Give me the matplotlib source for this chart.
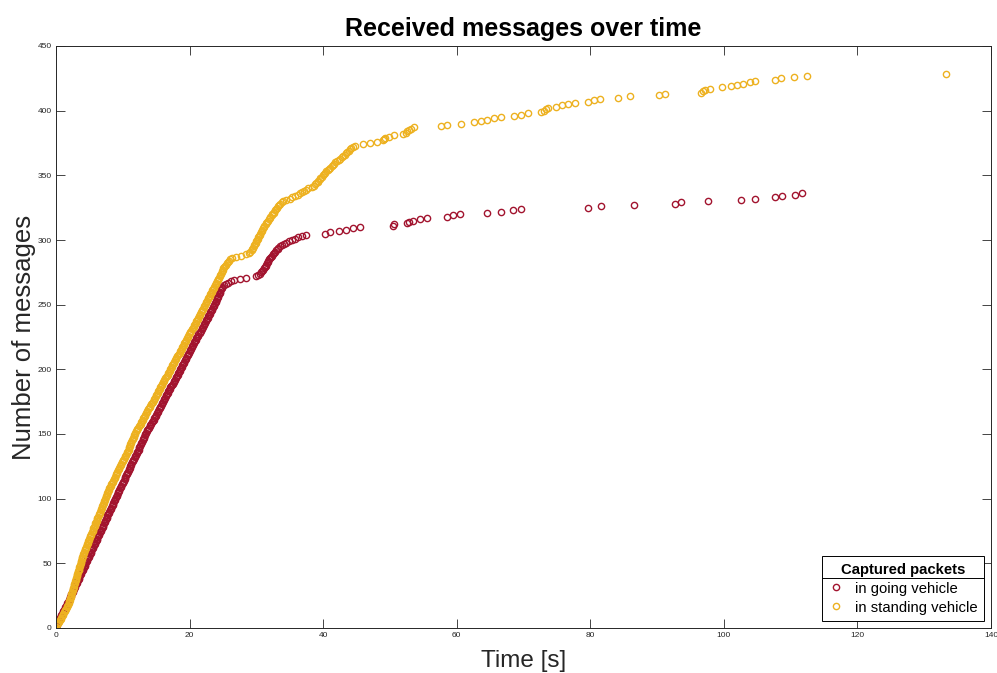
import numpy as np
import matplotlib
matplotlib.use("Agg")
import matplotlib.pyplot as plt
from matplotlib.lines import Line2D

plt.rcParams['font.family'] = ['Liberation Sans', 'DejaVu Sans']

# Arrival time [s] of every captured packet, in order (the y value is the running count)
going_times = [
    0.0, 0.1, 0.2, 0.2, 0.3, 0.4, 0.5, 0.6, 0.7, 0.8, 0.9,
    1.0, 1.1, 1.2, 1.3, 1.4, 1.5, 1.6, 1.7, 1.8, 1.9,
    2.0, 2.1, 2.1, 2.2, 2.3, 2.4, 2.5, 2.6, 2.7, 2.7, 2.8, 2.9,
    3.0, 3.1, 3.2, 3.3, 3.4, 3.5, 3.5, 3.6, 3.7, 3.8, 3.9,
    4.0, 4.1, 4.2, 4.3, 4.4, 4.4, 4.5, 4.6, 4.7, 4.8, 4.9,
    5.0, 5.1, 5.2, 5.3, 5.3, 5.4, 5.5, 5.6, 5.7, 5.8, 5.9,
    6.0, 6.1, 6.2, 6.2, 6.3, 6.4, 6.5, 6.6, 6.7, 6.8, 6.9,
    7.0, 7.1, 7.1, 7.2, 7.3, 7.4, 7.5, 7.6, 7.6, 7.7, 7.8, 7.9,
    8.0, 8.1, 8.2, 8.3, 8.4, 8.5, 8.5, 8.6, 8.7, 8.8, 8.9,
    9.0, 9.1, 9.2, 9.3, 9.3, 9.4, 9.5, 9.6, 9.7, 9.8, 9.9,
    10.0, 10.1, 10.2, 10.3, 10.4, 10.4, 10.5, 10.6, 10.7, 10.8, 10.9,
    11.0, 11.1, 11.1, 11.2, 11.3, 11.4, 11.5, 11.6, 11.7, 11.8, 11.9,
    12.0, 12.1, 12.2, 12.3, 12.4, 12.5, 12.5, 12.6, 12.7, 12.8, 12.9,
    13.0, 13.1, 13.2, 13.2, 13.3, 13.4, 13.5, 13.6, 13.7, 13.8, 13.9,
    14.0, 14.1, 14.2, 14.4, 14.5, 14.6, 14.7, 14.8, 14.9,
    15.0, 15.1, 15.2, 15.3, 15.4, 15.5, 15.6, 15.7, 15.8, 15.9,
    16.0, 16.1, 16.2, 16.3, 16.4, 16.5, 16.6, 16.7, 16.8, 16.9,
    17.0, 17.1, 17.2, 17.4, 17.5, 17.6, 17.7, 17.8, 17.9,
    18.0, 18.1, 18.2, 18.3, 18.4, 18.5, 18.6, 18.7, 18.8, 18.9,
    19.0, 19.1, 19.2, 19.3, 19.4, 19.5, 19.6, 19.7, 19.8, 19.9,
    20.0, 20.1, 20.2, 20.3, 20.4, 20.5, 20.6, 20.7, 20.8, 20.9,
    21.0, 21.1, 21.2, 21.3, 21.5, 21.6, 21.7, 21.8, 21.9,
    22.0, 22.1, 22.2, 22.3, 22.4, 22.5, 22.6, 22.7, 22.8, 22.9,
    23.0, 23.1, 23.2, 23.3, 23.4, 23.5, 23.6, 23.7, 23.8, 23.9,
    24.0, 24.1, 24.1, 24.2, 24.3, 24.4, 24.5, 24.6, 24.6, 24.7, 24.8, 24.9,
    25.2, 25.5, 25.8, 26.2, 26.6, 27.5, 28.4,
    29.9, 30.2, 30.5, 30.7, 30.9, 31.0, 31.2, 31.3, 31.4, 31.5, 31.6, 31.7,
    31.8, 31.9, 32.0, 32.2, 32.3, 32.5, 32.6, 32.8, 33.0, 33.2, 33.3, 33.5,
    33.9, 34.2, 34.5, 34.9, 35.3, 35.8, 36.3, 36.8, 37.4,
    40.3, 41.1, 42.4, 43.4, 44.4, 45.5, 50.5, 50.6,
    52.5, 52.9, 53.4, 54.5, 55.5, 58.5, 59.5, 60.5,
    64.5, 66.6, 68.5, 69.6, 79.6, 81.6, 86.6, 92.7, 93.6, 97.6,
    102.6, 104.7, 107.7, 108.7, 110.7, 111.7,
]

standing_times = [
    0.0, 0.1, 0.2, 0.3, 0.4, 0.6, 0.7, 0.8, 0.9,
    1.0, 1.1, 1.2, 1.3, 1.4, 1.5, 1.6, 1.7, 1.8, 1.9, 1.9,
    2.0, 2.05, 2.1, 2.2, 2.25, 2.3, 2.35, 2.4, 2.5, 2.55, 2.6, 2.65, 2.7, 2.75, 2.8, 2.9, 2.95,
    3.0, 3.05, 3.1, 3.15, 3.2, 3.3, 3.35, 3.4, 3.45, 3.5, 3.55, 3.6, 3.7, 3.75, 3.8, 3.85, 3.9, 3.95,
    4.0, 4.1, 4.15, 4.2, 4.3, 4.4, 4.5, 4.55, 4.6, 4.7, 4.8, 4.85, 4.9,
    5.0, 5.1, 5.15, 5.2, 5.3, 5.4, 5.5, 5.55, 5.6, 5.7, 5.8, 5.85, 5.9,
    6.0, 6.1, 6.15, 6.2, 6.3, 6.4, 6.5, 6.55, 6.6, 6.7, 6.8, 6.85, 6.9,
    7.0, 7.1, 7.15, 7.2, 7.3, 7.4, 7.5, 7.55, 7.6, 7.7, 7.8, 7.85, 7.9,
    8.0, 8.1, 8.2, 8.3, 8.4, 8.5, 8.6, 8.7, 8.8, 8.9, 8.95,
    9.0, 9.1, 9.2, 9.3, 9.4, 9.5, 9.6, 9.7, 9.8, 9.9,
    10.0, 10.1, 10.2, 10.3, 10.4, 10.5, 10.6, 10.7, 10.8, 10.9, 10.95,
    11.0, 11.1, 11.15, 11.2, 11.3, 11.4, 11.5, 11.6, 11.65, 11.7, 11.8, 11.9,
    12.0, 12.1, 12.2, 12.35, 12.5, 12.6, 12.7, 12.8, 12.9,
    13.0, 13.1, 13.2, 13.3, 13.4, 13.5, 13.6, 13.7, 13.8, 13.9,
    14.0, 14.1, 14.2, 14.35, 14.5, 14.6, 14.7, 14.8, 14.9,
    15.0, 15.1, 15.2, 15.3, 15.4, 15.5, 15.6, 15.7, 15.8, 15.9,
    16.0, 16.1, 16.2, 16.35, 16.5, 16.6, 16.7, 16.8, 16.9,
    17.0, 17.1, 17.2, 17.3, 17.4, 17.5, 17.6, 17.7, 17.8, 17.9,
    18.0, 18.1, 18.2, 18.35, 18.5, 18.6, 18.7, 18.8, 18.9,
    19.0, 19.1, 19.2, 19.3, 19.4, 19.5, 19.6, 19.7, 19.8, 19.9,
    20.0, 20.1, 20.2, 20.35, 20.5, 20.6, 20.7, 20.8, 20.9,
    21.0, 21.1, 21.2, 21.3, 21.4, 21.5, 21.6, 21.7, 21.8, 21.9,
    22.0, 22.1, 22.2, 22.3, 22.4, 22.5, 22.6, 22.7, 22.8, 22.9,
    23.0, 23.1, 23.2, 23.3, 23.4, 23.5, 23.6, 23.7, 23.8, 23.9,
    24.0, 24.1, 24.2, 24.3, 24.4, 24.5, 24.6, 24.7, 24.8, 24.9, 24.95,
    25.0, 25.15, 25.3, 25.45, 25.6, 25.75, 25.9,
    26.1, 26.4, 27.0, 27.7, 28.4, 28.9,
    29.1, 29.3, 29.4, 29.5, 29.6, 29.7, 29.8, 29.9, 30.0, 30.1,
    30.2, 30.3, 30.4, 30.5, 30.6, 30.7, 30.8, 30.9, 31.0, 31.1,
    31.2, 31.4, 31.5, 31.6, 31.8, 31.9, 32.0, 32.1, 32.3, 32.4,
    32.6, 32.7, 32.8, 33.0, 33.1, 33.3, 33.4, 33.6, 33.8, 34.0,
    34.5, 35.0, 35.4, 35.8, 36.2, 36.5, 36.9, 37.2, 37.5, 37.8,
    38.3, 38.6, 38.8, 39.0, 39.2, 39.3, 39.5, 39.6, 39.8, 40.0,
    40.1, 40.3, 40.5, 40.7, 40.9, 41.1, 41.3, 41.5, 41.7, 41.8,
    42.0, 42.3, 42.5, 42.8, 43.0, 43.2, 43.4, 43.6, 43.8, 44.0,
    44.2, 44.5, 44.8,
    46.0, 47.0, 48.0, 48.9, 49.1, 49.2, 49.9, 50.6,
    52.0, 52.4, 52.6, 52.8, 53.1, 53.6, 57.6, 58.5, 60.6, 62.6,
    63.6, 64.6, 65.6, 66.6, 68.6, 69.7, 70.7, 72.6, 73.0, 73.3, 73.6,
    74.8, 75.7, 76.7, 77.7, 79.6, 80.5, 81.4, 84.2, 86.0, 90.3, 91.2,
    96.6, 96.9, 97.2, 97.9, 99.7, 101.0, 102.0, 102.9, 103.9, 104.7,
    107.7, 108.6, 110.5, 112.4, 133.2,
]

going_count = np.arange(1, len(going_times) + 1)
standing_count = np.arange(1, len(standing_times) + 1)

red = '#A2142F'
yellow = '#EDB120'
axis_col = '#262626'

fig = plt.figure(figsize=(9.97, 6.73), dpi=100)
ax = fig.add_axes([56/997, 45/673, 935/997, 582/673])

ax.plot(going_times, going_count, 'o', mfc='none', mec=red, ms=4.5, mew=1.0,
        label='in going vehicle')
ax.plot(standing_times, standing_count, 'o', mfc='none', mec=yellow, ms=4.5, mew=1.0,
        label='in standing vehicle')

ax.set_xlim(0, 140)
ax.set_ylim(0, 450)
ax.set_xticks(np.arange(0, 141, 20))
ax.set_yticks(np.arange(0, 451, 50))
ax.tick_params(direction='in', top=True, right=True, length=6.8, width=0.6,
               labelsize=6, colors=axis_col, pad=3)
for s in ax.spines.values():
    s.set_color(axis_col)
    s.set_linewidth(0.7)

ax.set_title('Received messages over time', fontsize=18, fontweight='bold', pad=7)
ax.set_xlabel('Time [s]', fontsize=17.5, labelpad=8, color=axis_col)
ax.set_ylabel('Number of messages', fontsize=18.5, labelpad=1, color=axis_col)

leg_fs = 10.7
leg = ax.legend(loc='lower right', title='Captured packets', fontsize=leg_fs,
                title_fontproperties={'weight': 'bold', 'size': leg_fs},
                fancybox=False, edgecolor='black', framealpha=1,
                numpoints=1, handlelength=1.0, handletextpad=0.75,
                borderpad=0.45, labelspacing=0.34, borderaxespad=0.45)
leg.get_frame().set_linewidth(0.7)

# separator line between legend title and entries
fig.canvas.draw()
r = fig.canvas.get_renderer()
lb = leg.get_window_extent(r)
tb = leg.get_title().get_window_extent(r)
first = leg.get_texts()[0].get_window_extent(r)
inv = fig.transFigure.inverted()
ysep = (tb.y0 + first.y1) / 2 + 1
p0 = inv.transform((lb.x0, ysep))
p1 = inv.transform((lb.x1, ysep))
fig.add_artist(Line2D([p0[0], p1[0]], [p0[1], p1[1]], color='black', lw=0.7,
                      transform=fig.transFigure))

fig.savefig('out.png', dpi=100)
